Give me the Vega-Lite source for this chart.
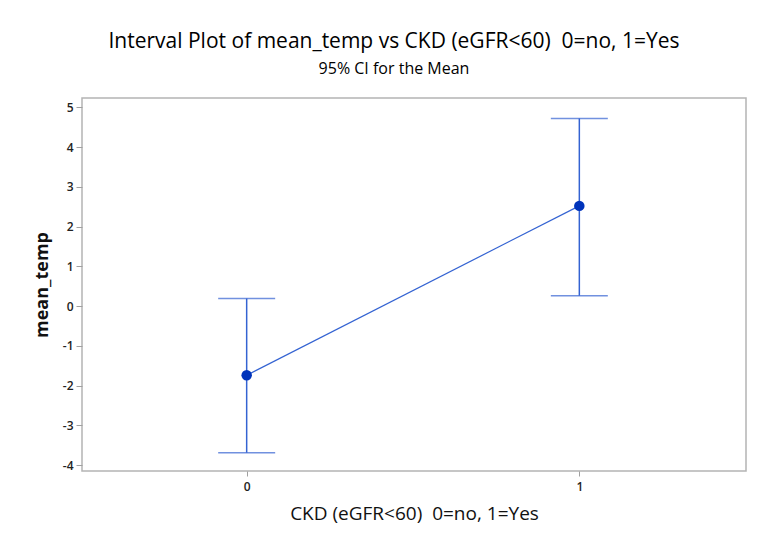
{
  "$schema": "https://vega.github.io/schema/vega-lite/v6.json",
  "width": 664,
  "height": 373,
  "autosize": "none",
  "padding": {"left": 82, "top": 98, "right": 25, "bottom": 69},
  "background": "white",
  "title": {
    "text": "Interval Plot of mean_temp vs CKD (eGFR<60)\u00a0 0=no, 1=Yes",
    "subtitle": "95% CI for the Mean",
    "anchor": "middle",
    "dx": -20,
    "offset": 21,
    "font": "Open Sans",
    "fontSize": 21,
    "fontWeight": 500,
    "color": "#000000",
    "subtitleFont": "Open Sans",
    "subtitleFontSize": 16,
    "subtitleFontWeight": 500,
    "subtitleColor": "#000000",
    "subtitlePadding": 9
  },
  "config": {
    "view": {"stroke": "#b4b4b4", "strokeWidth": 1.5},
    "axis": {
      "grid": false,
      "domain": false,
      "tickColor": "#a0a0a0",
      "labelFont": "Open Sans",
      "labelFontSize": 12,
      "labelFontWeight": 600,
      "labelColor": "#222222",
      "titleFont": "Open Sans",
      "titleColor": "#111111"
    }
  },
  "data": {
    "values": [
      {"ckd": 0, "mean": -1.74, "lo": -3.69, "hi": 0.19},
      {"ckd": 1, "mean": 2.52, "lo": 0.26, "hi": 4.72}
    ]
  },
  "encoding": {
    "x": {
      "field": "ckd",
      "type": "quantitative",
      "scale": {"domain": [-0.495, 1.501], "nice": false, "zero": false},
      "axis": {
        "values": [0, 1],
        "format": "d",
        "title": "CKD (eGFR<60)\u00a0 0=no, 1=Yes",
        "tickSize": 5,
        "labelPadding": 5,
        "titleFontSize": 19,
        "titleFontWeight": "normal",
        "titlePadding": 12
      }
    }
  },
  "layer": [
    {
      "mark": {"type": "rule", "color": "#3463d2", "strokeWidth": 1.5},
      "encoding": {
        "y": {
          "field": "lo",
          "type": "quantitative",
          "scale": {"domain": [-4.15, 5.234], "nice": false, "zero": false},
          "axis": {
            "values": [-4, -3, -2, -1, 0, 1, 2, 3, 4, 5],
            "labelExpr": "datum.value < 0 ? '-' + abs(datum.value) : '' + datum.value",
            "title": "mean_temp",
            "tickSize": 6,
            "labelPadding": 3,
            "titleFontSize": 18,
            "titleFontWeight": "bold",
            "titlePadding": 11
          }
        },
        "y2": {"field": "hi"}
      }
    },
    {
      "mark": {"type": "tick", "orient": "horizontal", "color": "#3463d2", "size": 57, "thickness": 1.5},
      "encoding": {"y": {"field": "lo", "type": "quantitative"}}
    },
    {
      "mark": {"type": "tick", "orient": "horizontal", "color": "#3463d2", "size": 57, "thickness": 1.5},
      "encoding": {"y": {"field": "hi", "type": "quantitative"}}
    },
    {
      "mark": {"type": "line", "color": "#3463d2", "strokeWidth": 1.2},
      "encoding": {"y": {"field": "mean", "type": "quantitative"}}
    },
    {
      "mark": {"type": "point", "filled": true, "opacity": 1, "color": "#0033bb", "size": 110},
      "encoding": {"y": {"field": "mean", "type": "quantitative"}}
    }
  ]
}
